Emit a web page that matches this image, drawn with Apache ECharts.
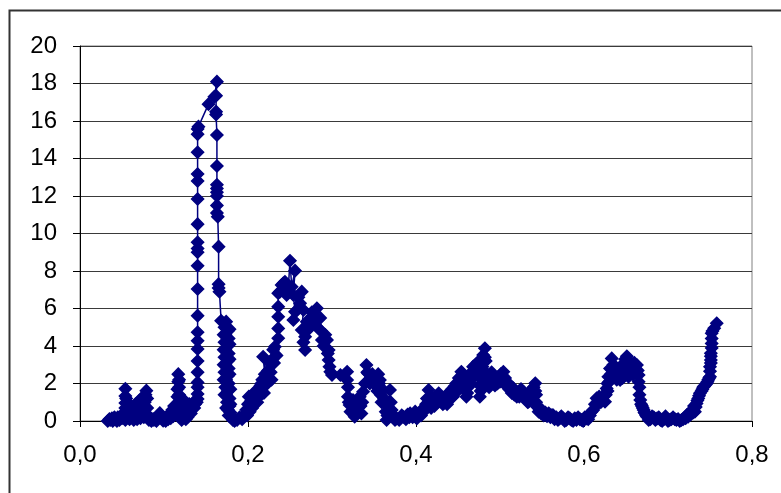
<!DOCTYPE html>
<html>
<head>
<meta charset="utf-8">
<script src="https://cdn.jsdelivr.net/npm/echarts@6/dist/echarts.min.js"></script>
<style>
html,body{margin:0;padding:0;background:#fff;}
#c{width:781px;height:493px;}
</style>
</head>
<body>
<div id="c"></div>
<script>
// x-axis tick labels and y-axis ticks
const xTicks = [0, 0.2, 0.4, 0.6, 0.8];
const yTicks = [0, 2, 4, 6, 8, 10, 12, 14, 16, 18, 20];

// data points [x, y], in drawing order
const lowLeft = [
[0.033,0],[0.035,0.1],[0.036,0.05],[0.038,0.15],[0.039,0],[0.041,0.2],[0.042,0.1],[0.044,0],[0.045,0.2],[0.047,0.05],[0.048,0.25],[0.05,0.15],[0.052,0.3],[0.054,0.05],[0.054,0.4],[0.054,0.7],[0.054,0.96],[0.054,1.33],[0.054,1.72],[0.055,1.2],[0.056,0.6],[0.057,0.2],[0.058,0.4],[0.059,0.1],[0.06,0.5],[0.061,0.8],[0.062,0.3],[0.063,0.6],[0.064,0.05],[0.065,0.6],[0.066,0.9],[0.067,0.4],[0.068,0.1],[0.069,0.7],[0.07,1.05],[0.071,0.5],[0.072,0.15],[0.073,0.8],[0.074,1.25],[0.075,0.6],[0.076,0.2],[0.077,1.0],[0.078,1.4],[0.079,1.62],[0.08,1.2],[0.08,0.7],[0.081,0.3],[0.082,0.05],[0.084,0.15],[0.085,0],[0.087,0.1],[0.088,0.05],[0.091,0],[0.093,0.2],[0.095,0.42],[0.097,0.2],[0.099,0.02],[0.102,0],[0.104,0.2],[0.105,0.1],[0.107,0.4],[0.108,0.15],[0.109,0.5],[0.11,0.6],[0.111,0.25],[0.112,0.8],[0.113,0.4],[0.114,0.6],[0.115,0.9],[0.116,1.3],[0.116,1.7],[0.117,2.1],[0.117,2.5],[0.118,2.2],[0.118,1.8],[0.118,1.4],[0.119,1.0],[0.119,0.6],[0.12,0.25],[0.121,0.05],[0.122,0.4],[0.123,0.8],[0.124,1.1],[0.124,0.7],[0.125,0.3],[0.126,0.1],[0.127,0.5],[0.128,0.2],[0.129,0.6],[0.13,0.9],[0.131,0.7],[0.132,0.4],[0.133,0.85],[0.135,1.0],[0.136,0.7],[0.137,0.9],[0.139,1.0]
];
const firstPeak = [
[0.14,1.17],[0.14,1.44],[0.14,1.8],[0.14,2.06],[0.14,2.6],[0.14,3.2],[0.14,3.84],[0.14,4.28],[0.14,4.73],[0.14,5.62],[0.14,7.04],[0.14,8.28],[0.14,9.0],[0.14,9.2],[0.14,9.53],[0.14,10.5],[0.14,11.84],[0.14,12.8],[0.14,13.17],[0.14,14.33],[0.14,15.3],[0.14,15.57],[0.141,15.7],[0.153,16.9],[0.16,17.3],[0.163,18.1],[0.162,17.35],[0.162,16.5],[0.162,16.35],[0.163,15.25],[0.163,13.6],[0.163,12.6],[0.163,12.4],[0.163,12.2],[0.163,12.0],[0.163,11.5],[0.163,11.1],[0.164,10.9],[0.165,9.3],[0.165,7.3],[0.165,7.1],[0.166,6.9],[0.168,5.35],[0.174,5.3],
[0.172,5.0],[0.178,4.9],[0.176,4.8],[0.171,4.6],[0.173,4.6],[0.177,4.4],[0.172,4.2],[0.178,4.1],[0.176,4.0],[0.171,3.8],[0.173,3.8],[0.177,3.6],[0.172,3.4],[0.178,3.3],[0.176,3.2],[0.171,3.0],[0.173,3.0],[0.177,2.8],[0.172,2.6],[0.178,2.5],[0.176,2.4],[0.171,2.2],[0.174,2.2],[0.177,2.0],[0.173,1.8],[0.179,1.7],[0.176,1.6],[0.172,1.4],[0.174,1.4],[0.178,1.2],[0.175,1.0],[0.179,0.9],[0.178,0.8],[0.174,0.7],[0.176,0.6],[0.179,0.45],[0.177,0.3],[0.18,0.3],[0.181,0.15],[0.182,0.05],[0.184,0]
];
const secondPeak = [
[0.187,0.05],[0.19,0.2],[0.193,0.1],[0.196,0.35],[0.198,0.6],[0.199,0.3],[0.2,0.9],[0.201,1.3],[0.202,0.5],[0.203,0.8],[0.204,1.1],[0.205,0.7],[0.206,1.4],[0.207,1.0],[0.208,1.2],[0.209,1.6],[0.21,1.3],[0.211,1.0],[0.212,1.7],[0.213,1.3],[0.214,1.5],[0.215,1.9],[0.216,2.0],[0.217,2.2],[0.218,1.8],[0.219,1.5],[0.22,2.5],[0.218,3.43],[0.222,2.3],[0.223,2.0],[0.224,2.7],[0.225,2.3],[0.226,3.08],[0.227,2.6],[0.228,2.2],[0.229,3.3],[0.23,3.8],[0.231,3.1],[0.232,3.96],[0.234,3.5],[0.236,4.41],[0.236,4.94],[0.236,5.56],[0.236,6.1],[0.236,6.81],[0.238,6.9],[0.24,7.25],[0.242,7.34],[0.244,7.43],[0.246,6.81],[0.246,6.72],[0.248,7.1],[0.25,8.55],[0.252,7.16],[0.256,8.02],[0.254,6.72],[0.256,5.83],[0.254,5.39],[0.258,5.9],[0.26,6.6],[0.262,6.28],[0.264,6.9],[0.266,5.92],[0.264,4.85],[0.266,4.2],[0.268,3.79],[0.268,4.5],[0.27,5.3],[0.272,4.9],[0.274,5.12],[0.276,5.8],[0.277,5.6],[0.28,5.39],[0.282,6.01],[0.283,5.4],[0.284,4.94],[0.286,5.5],[0.287,4.8],[0.288,4.32],[0.29,4.0],[0.292,4.6],[0.294,4.32],[0.295,3.6],[0.296,3.79],[0.296,3.25],[0.297,2.9],[0.298,2.63],[0.3,2.45],[0.31,2.45],[0.318,2.63],[0.318,2.19],[0.319,1.8],[0.319,1.3],[0.32,1.0],[0.321,0.85],[0.322,0.5],[0.324,0.8],[0.325,1.12],[0.326,0.6],[0.327,0.23],[0.328,0.4],[0.329,0.6],[0.33,1.0],[0.331,0.7],[0.333,1.3],[0.334,0.8],[0.335,0.4],[0.336,1.0],[0.337,1.56],[0.339,2.0],[0.341,2.99],[0.342,2.6],[0.343,2.54],[0.345,2.0],[0.346,2.2],[0.348,2.5],[0.349,2.36],[0.351,2.1],[0.352,1.9],[0.354,1.6],[0.355,2.5],[0.356,2.0],[0.357,2.19],[0.358,1.4],[0.359,1.0],[0.361,1.65],[0.362,1.2],[0.363,0.94],[0.364,0.5],[0.365,0.05],[0.366,0.3],[0.367,0.4],[0.368,1.0]
];
const middleHump = [
[0.369,1.65],[0.37,1.0],[0.371,0.59],[0.373,0.3],[0.375,0.05],[0.377,0.14],[0.38,0.05],[0.382,0.2],[0.383,0.3],[0.385,0.23],[0.388,0.1],[0.39,0.35],[0.392,0.2],[0.393,0.41],[0.396,0.2],[0.398,0.3],[0.399,0.5],[0.401,0.14],[0.403,0.3],[0.404,0.4],[0.406,0.3],[0.407,0.6],[0.409,0.5],[0.41,0.7],[0.412,0.9],[0.413,1.2],[0.415,1.65],[0.416,1.0],[0.417,1.3],[0.418,0.7],[0.419,0.9],[0.421,1.03],[0.422,0.8],[0.424,1.3],[0.425,1.0],[0.427,1.48],[0.428,1.1],[0.43,1.2],[0.432,0.9],[0.433,0.95],[0.435,1.12],[0.437,0.9],[0.438,1.3],[0.44,1.56],[0.441,1.2],[0.443,1.7],[0.444,1.3],[0.446,1.85],[0.447,1.5],[0.448,2.01],[0.45,1.7],[0.451,2.3],[0.453,2.0],[0.454,2.63],[0.455,2.4],[0.456,2.2],[0.457,1.9],[0.458,1.7],[0.46,1.3],[0.461,1.5],[0.462,1.8],[0.463,2.1],[0.464,2.36],[0.465,2.0],[0.466,2.6],[0.467,2.3],[0.468,2.9],[0.47,2.5],[0.471,3.0],[0.472,2.7],[0.474,3.16],[0.475,2.9],[0.476,2.54],[0.476,1.9],[0.476,1.3],[0.477,1.6],[0.478,2.2],[0.479,2.9],[0.48,3.52],[0.482,3.88],[0.482,3.4],[0.483,3.2],[0.484,2.54],[0.485,2.2],[0.486,2.0],[0.487,1.8],[0.488,2.19],[0.489,2.4],[0.49,2.6],[0.491,2.2],[0.492,2.45],[0.494,1.9],[0.495,2.1],[0.497,2.0],[0.498,2.36],[0.5,2.1],[0.501,2.5],[0.502,2.2],[0.504,2.63],[0.505,2.3],[0.506,2.3],[0.507,1.9],[0.508,2.0],[0.51,2.01],[0.511,1.7],[0.513,1.8],[0.514,1.5],[0.516,1.74],[0.517,1.4],[0.519,1.6],[0.52,1.3],[0.522,1.56],[0.523,1.3],[0.525,1.7],[0.526,1.4],[0.528,1.56],[0.53,1.2],[0.531,1.3],[0.533,1.0],[0.534,1.03],[0.535,1.2],[0.537,1.5],[0.538,1.7],[0.54,1.8],[0.542,2.01],[0.542,1.6],[0.543,1.4],[0.543,1.0],[0.544,0.76],[0.546,0.5],[0.547,0.65],[0.549,0.4],[0.55,0.59],[0.552,0.3],[0.554,0.45],[0.556,0.25],[0.558,0.41],[0.56,0.2],[0.561,0.3],[0.563,0.32],[0.565,0.1],[0.567,0.2],[0.569,0.05],[0.571,0.14],[0.573,0.25],[0.575,0.14],[0.577,0],[0.579,0.05],[0.581,0.2],[0.583,0.14],[0.585,0.05],[0.587,0],[0.589,0.15],[0.591,0.05],[0.593,0.2],[0.595,0.1],[0.597,0.05],[0.599,0],[0.601,0.2],[0.603,0.14]
];
const rightHump = [
[0.605,0.1],[0.607,0.3],[0.609,0.5],[0.611,0.59],[0.613,0.9],[0.615,1.21],[0.616,0.9],[0.618,1.3],[0.62,1.0],[0.621,1.15],[0.623,1.3],[0.625,1.03],[0.626,1.4],[0.627,1.74],[0.628,2.0],[0.628,1.6],[0.629,2.36],[0.63,2.1],[0.631,2.8],[0.632,2.5],[0.633,3.34],[0.634,2.7],[0.635,3.0],[0.636,2.5],[0.637,2.9],[0.638,2.6],[0.639,2.2],[0.64,2.4],[0.641,2.8],[0.643,2.19],[0.644,2.9],[0.645,2.6],[0.646,2.3],[0.647,2.9],[0.648,3.1],[0.649,3.3],[0.65,2.8],[0.651,3.45],[0.652,3.0],[0.653,2.36],[0.654,2.6],[0.655,2.7],[0.656,3.1],[0.657,2.9],[0.658,2.5],[0.66,3.1],[0.661,2.8],[0.663,2.99],[0.664,2.7],[0.665,2.45],[0.665,2.1],[0.666,1.8],[0.666,1.4],[0.667,1.12],[0.668,0.9],[0.669,0.8],[0.67,0.7],[0.671,0.59],[0.672,0.45],[0.673,0.4],[0.674,0.3],[0.675,0.23],[0.677,0.05],[0.679,0.1],[0.681,0.25],[0.683,0.2],[0.685,0.05],[0.687,0.14],[0.689,0.2],[0.691,0.05],[0.693,0],[0.695,0.1],[0.697,0.25],[0.698,0.14],[0.7,0],[0.702,0.05],[0.704,0.1],[0.706,0.2],[0.708,0.1],[0.71,0.05],[0.712,0.1],[0.714,0],[0.716,0.05],[0.718,0.1],[0.72,0.2],[0.721,0.15],[0.723,0.35],[0.724,0.23],[0.726,0.45],[0.727,0.35],[0.729,0.6],[0.73,0.45],[0.731,0.8],[0.732,0.5],[0.733,0.75],[0.734,0.94],[0.735,1.1],[0.736,1.2],[0.737,1.35],[0.738,1.48],[0.74,1.6],[0.741,1.7],[0.742,1.8],[0.743,1.85],[0.745,1.95],[0.746,2.01],[0.747,2.1],[0.748,2.2],[0.749,2.3],[0.75,2.36],[0.75,2.65],[0.75,2.9],[0.751,3.1],[0.751,3.25],[0.751,3.45],[0.751,3.61],[0.752,3.9],[0.752,4.14],[0.752,4.4],[0.752,4.68],[0.753,4.8],[0.755,4.95],[0.758,5.21]
];

const allPoints = [].concat(lowLeft, firstPeak, secondPeak, middleHump, rightHump);

const chart = echarts.init(document.getElementById('c'), null, {renderer: 'canvas'});
const fontFamily = '"Liberation Sans", Arial, sans-serif';
chart.setOption({
  animation: false,
  backgroundColor: '#ffffff',
  graphic: [{
    type: 'rect',
    left: 7, top: 8,
    shape: {width: 820, height: 520},
    style: {fill: 'none', stroke: '#333333', lineWidth: 2},
    silent: true, z: 100
  }],
  grid: {
    left: 80, right: 29, top: 46, bottom: 72,
    containLabel: false,
    outerBoundsMode: 'none',
    show: true,
    borderColor: '#808080',
    borderWidth: 1
  },
  xAxis: {
    type: 'value',
    min: xTicks[0], max: xTicks[xTicks.length - 1], interval: 0.2,
    axisLine: {show: true, onZero: false, lineStyle: {color: '#000000', width: 1}},
    axisTick: {show: true, inside: false, length: 6, lineStyle: {color: '#000000'}},
    splitLine: {show: false},
    axisLabel: {
      margin: 22, color: '#000000', fontSize: 24, fontFamily: fontFamily,
      formatter: v => v.toFixed(1).replace('.', ',')
    }
  },
  yAxis: {
    type: 'value',
    min: yTicks[0], max: yTicks[yTicks.length - 1], interval: 2,
    axisLine: {show: true, lineStyle: {color: '#000000', width: 1}},
    axisTick: {show: true, inside: false, length: 7, lineStyle: {color: '#000000'}},
    splitLine: {show: true, lineStyle: {color: '#3a3a3a', width: 1}},
    axisLabel: {margin: 23, color: '#000000', fontSize: 24, fontFamily: fontFamily}
  },
  series: [{
    type: 'line',
    data: allPoints,
    symbol: 'diamond',
    symbolSize: 12,
    showSymbol: true,
    showAllSymbol: true,
    clip: false,
    lineStyle: {color: '#000080', width: 1.5},
    itemStyle: {color: '#000080', borderColor: '#000080', borderWidth: 1.5},
    emphasis: {disabled: true}
  }]
});
</script>
</body>
</html>
